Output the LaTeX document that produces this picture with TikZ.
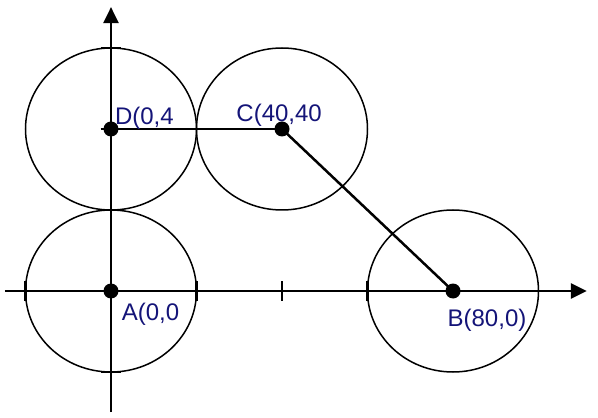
\documentclass[tikz,border=0pt]{standalone}
\usepackage{fontspec}
\setmainfont{Liberation Sans}
\usetikzlibrary{arrows.meta,calc}
\definecolor{lbl}{HTML}{141478}

\begin{document}
\begin{tikzpicture}[
    x=4.275pt, y=4.05pt,
    axis/.style={
        line width=2.6pt, -{Triangle[length=16pt,width=15pt]}
    },
    tick/.style={line width=2.6pt},
    ring/.style={line width=1.5pt},
    seg/.style={line width=2.5pt},
    dot/.style={
        circle, fill=black, minimum size=15pt, inner sep=0pt
    },
    ptlabel/.style={
        font=\fontsize{24}{28}\selectfont, text=lbl,
        anchor=base west, inner sep=0pt
    }
]
\useasboundingbox (-25.965,-31.111) rectangle (113.918,71.852);

% --- axes ---
\coordinate (xl) at (-24.8,0);
\coordinate (xr) at (111.3,0);
\coordinate (yb) at (0,-29.9);
\coordinate (yt) at (0,70.1);
\draw[axis] (xl) -- (xr);
\draw[axis] (yb) -- (yt);

% --- ticks ---
\foreach \t in {-20,20,40,60}
    \draw[tick] (\t,-2.4) -- (\t,2.4);
\foreach \t in {-20,20,40,60}
    \draw[tick] (-2.4,\t) -- (2.4,\t);

% --- points ---
\node[dot] (A) at (0,0) {};
\node[dot] (B) at (80,0) {};
\node[dot] (C) at (40,40) {};
\node[dot] (D) at (0,40) {};

% --- circles of radius 20 round each point ---
\foreach \p in {A,B,C,D}
    \draw[ring] (\p.center) circle (20);

% --- path D -> C -> B ---
\draw[seg] (D.center) -- (C.center);
\draw[seg] (C.center) -- (B.center);

% --- labels ---
\node[ptlabel] (lA) at ($(A)+(2.5,-7.2)$) {A(0,0};
\node[ptlabel] (lB) at ($(B)+(-1.3,-8.8)$) {B(80,0)};
\node[ptlabel] (lC) at ($(C)+(-10.7,1.8)$) {C(40,40};
\node[ptlabel] (lD) at ($(D)+(0.9,1.0)$) {D(0,4};

\end{tikzpicture}
\end{document}
